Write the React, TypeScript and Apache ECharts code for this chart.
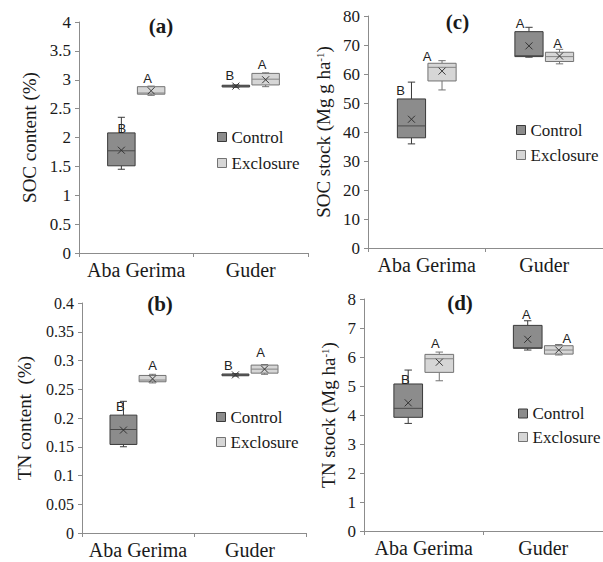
import React, { useEffect, useRef } from 'react';
import * as echarts from 'echarts';

const categories = ['Aba Gerima', 'Guder'];
const seriesNames = ['Control', 'Exclosure'];

// each entry: [min, Q1, median, Q3, max, mean]
const socContentControl = [[1.45, 1.51, 1.77, 2.08, 2.35, 1.78], [2.87, 2.875, 2.89, 2.905, 2.91, 2.89]];
const socContentExclosure = [[2.73, 2.75, 2.77, 2.88, 2.89, 2.81], [2.88, 2.91, 3.01, 3.11, 3.12, 3.0]];
const tnContentControl = [[0.15, 0.154, 0.18, 0.205, 0.229, 0.179], [0.273, 0.2735, 0.275, 0.2765, 0.277, 0.275]];
const tnContentExclosure = [[0.261, 0.263, 0.266, 0.274, 0.276, 0.268], [0.276, 0.278, 0.285, 0.292, 0.293, 0.285]];
const socStockControl = [[35.9, 38.0, 42.1, 51.4, 57.2, 44.4], [65.8, 66.0, 66.3, 74.6, 76.1, 69.7]];
const socStockExclosure = [[54.5, 57.6, 62.3, 63.7, 64.6, 61.0], [63.5, 64.3, 66.0, 67.5, 68.5, 66.2]];
const tnStockControl = [[3.71, 3.92, 4.23, 5.07, 5.55, 4.42], [6.24, 6.3, 6.32, 7.09, 7.25, 6.61]];
const tnStockExclosure = [[5.18, 5.47, 5.94, 6.09, 6.17, 5.82], [6.07, 6.1, 6.24, 6.39, 6.43, 6.24]];

// significance letters and the value at which each letter sits
const socContentControlLetters = ['B', 'B'];
const socContentExclosureLetters = ['A', 'A'];
const socContentControlLetterY = [2.16, 3.08];
const socContentExclosureLetterY = [3.02, 3.26];
const tnContentControlLetters = ['B', 'B'];
const tnContentExclosureLetters = ['A', 'A'];
const tnContentControlLetterY = [0.22, 0.292];
const tnContentExclosureLetterY = [0.292, 0.3136];
const socStockControlLetters = ['B', 'A'];
const socStockExclosureLetters = ['A', 'A'];
const socStockControlLetterY = [54.2, 77.5];
const socStockExclosureLetterY = [66, 70.6];
const tnStockControlLetters = ['B', 'A'];
const tnStockExclosureLetters = ['A', 'A'];
const tnStockControlLetterY = [5.24, 7.45];
const tnStockExclosureLetterY = [6.47, 6.65];

// axis ranges: [min, max, interval]
const socContentAxis = [0, 4, 0.5];
const tnContentAxis = [0, 0.4, 0.05];
const socStockAxis = [0, 80, 10];
const tnStockAxis = [0, 8, 1];

const SERIF = 'Liberation Serif';
const SANS = 'Liberation Sans';
const TEXT = '#1a1a1a';
const AXIS = '#8c8c8c';
const BOX_FRAC = 0.24;
const OFFSET = 0.13;
const styles = [
  { fill: '#8c8c8c', stroke: '#3a3a3a', median: '#4a4a4a', mean: '#333333', offset: -OFFSET },
  { fill: '#d6d6d6', stroke: '#737373', median: '#858585', mean: '#3a3a3a', offset: OFFSET },
];

const panels = [
  {
    title: '(a)', yName: 'SOC content (%)', axis: socContentAxis,
    data: [socContentControl, socContentExclosure],
    letters: [socContentControlLetters, socContentExclosureLetters],
    letterY: [socContentControlLetterY, socContentExclosureLetterY],
    layout: {
      grid: { left: 79, top: 22, width: 229, height: 231 }, nameGap: 40, tickSize: 17,
      legend: { left: 217, top: 128.5, gap: 9 }, title: [161, 26], dx: [[0.5, -6], [-3.5, -3.5]],
    },
  },
  {
    title: '(b)', yName: 'TN content  (%)', axis: tnContentAxis,
    data: [tnContentControl, tnContentExclosure],
    letters: [tnContentControlLetters, tnContentExclosureLetters],
    letterY: [tnContentControlLetterY, tnContentExclosureLetterY],
    layout: {
      grid: { left: 82, top: 303, width: 224, height: 230 }, nameGap: 48, tickSize: 16,
      legend: { left: 216, top: 408.5, gap: 8 }, title: [160, 304], dx: [[-3, -7], [0, -4]],
    },
  },
  {
    title: '(c)', yName: 'SOC stock (Mg g ha{sup|-1})', axis: socStockAxis,
    data: [socStockControl, socStockExclosure],
    letters: [socStockControlLetters, socStockExclosureLetters],
    letterY: [socStockControlLetterY, socStockExclosureLetterY],
    layout: {
      grid: { left: 368, top: 16, width: 237, height: 232 }, nameGap: 35, tickSize: 17,
      legend: { left: 516, top: 121.5, gap: 8 }, title: [457.5, 22], dx: [[-11, -9], [-15, -2]],
    },
  },
  {
    title: '(d)', yName: 'TN stock (Mg ha{sup|-1})', axis: tnStockAxis,
    data: [tnStockControl, tnStockExclosure],
    letters: [tnStockControlLetters, tnStockExclosureLetters],
    letterY: [tnStockControlLetterY, tnStockExclosureLetterY],
    layout: {
      grid: { left: 364, top: 299, width: 242, height: 232 }, nameGap: 26, tickSize: 17,
      legend: { left: 518, top: 405, gap: 6.5 }, title: [460, 302.5], dx: [[-3, -1.5], [-4, 8]],
    },
  },
];

function makeRender(st: any, letters: string[], letterY: number[], dx: number[]) {
  return (params: any, api: any) => {
    const i = params.dataIndex;
    const cat = api.value(0);
    const band = api.size([1, 0])[0];
    const cx = api.coord([cat, 0])[0] + st.offset * band;
    const w = BOX_FRAC * band;
    const py = (v: number) => api.coord([cat, v])[1];
    const lo = py(api.value(1));
    const q1 = py(api.value(2));
    const med = py(api.value(3));
    const q3 = py(api.value(4));
    const hi = py(api.value(5));
    const mean = py(api.value(6));
    const cap = w * 0.13;
    const m = 3.5;
    const ls = { stroke: st.stroke, lineWidth: 1 };
    return {
      type: 'group',
      children: [
        { type: 'line', shape: { x1: cx, y1: hi, x2: cx, y2: q3 }, style: ls },
        { type: 'line', shape: { x1: cx, y1: q1, x2: cx, y2: lo }, style: ls },
        { type: 'line', shape: { x1: cx - cap, y1: hi, x2: cx + cap, y2: hi }, style: ls },
        { type: 'line', shape: { x1: cx - cap, y1: lo, x2: cx + cap, y2: lo }, style: ls },
        {
          type: 'rect',
          shape: { x: cx - w / 2, y: q3, width: w, height: Math.max(q1 - q3, 1) },
          style: { fill: st.fill, stroke: st.stroke, lineWidth: 1 },
        },
        { type: 'line', shape: { x1: cx - w / 2, y1: med, x2: cx + w / 2, y2: med }, style: { stroke: st.median, lineWidth: 1 } },
        { type: 'line', shape: { x1: cx - m, y1: mean - m, x2: cx + m, y2: mean + m }, style: { stroke: st.mean, lineWidth: 1 } },
        { type: 'line', shape: { x1: cx - m, y1: mean + m, x2: cx + m, y2: mean - m }, style: { stroke: st.mean, lineWidth: 1 } },
        {
          type: 'text',
          x: cx + dx[i],
          y: py(letterY[i]),
          style: {
            text: letters[i], fill: '#222', fontSize: 13, fontFamily: SANS,
            textAlign: 'center', textVerticalAlign: 'middle',
          },
        },
      ],
    };
  };
}

function buildOption() {
  const grid: any[] = [];
  const xAxis: any[] = [];
  const yAxis: any[] = [];
  const series: any[] = [];
  const legend: any[] = [];
  const graphic: any[] = [];

  panels.forEach((p, k) => {
    const L = p.layout;
    grid.push({ ...L.grid, containLabel: false });
    xAxis.push({
      type: 'category', gridIndex: k, data: categories,
      axisLine: { show: true, lineStyle: { color: AXIS, width: 1 } },
      axisTick: { show: true, length: 4, lineStyle: { color: AXIS } },
      axisLabel: { color: TEXT, fontFamily: SERIF, fontSize: 20, margin: 7, interval: 0, hideOverlap: false },
      splitLine: { show: false },
    });
    yAxis.push({
      type: 'value', gridIndex: k, min: p.axis[0], max: p.axis[1], interval: p.axis[2],
      name: p.yName, nameLocation: 'middle', nameGap: L.nameGap,
      nameTextStyle: {
        color: TEXT, fontFamily: SERIF, fontSize: 19, lineHeight: 19,
        rich: { sup: { fontSize: 11, lineHeight: 10, verticalAlign: 'top', fontFamily: SERIF, color: TEXT } },
      },
      axisLine: { show: true, lineStyle: { color: AXIS, width: 1 } },
      axisTick: { show: true, length: 4, lineStyle: { color: AXIS } },
      axisLabel: { color: TEXT, fontFamily: SERIF, fontSize: L.tickSize, margin: 8 },
      splitLine: { show: false },
    });
    seriesNames.forEach((name, s) => {
      const st = styles[s];
      series.push({
        type: 'custom', name, xAxisIndex: k, yAxisIndex: k,
        data: categories.map((_, i) => [i, ...p.data[s][i]]),
        encode: { x: 0, y: [1, 2, 3, 4, 5, 6] },
        itemStyle: { color: st.fill, borderColor: st.stroke, borderWidth: 1 },
        renderItem: makeRender(st, p.letters[s], p.letterY[s], L.dx[s]),
      });
    });
    legend.push({
      orient: 'vertical', left: L.legend.left, top: L.legend.top, itemGap: L.legend.gap,
      padding: 0, icon: 'rect', itemWidth: 9, itemHeight: 9, selectedMode: false,
      textStyle: { color: TEXT, fontFamily: SERIF, fontSize: 17, lineHeight: 17 },
      data: seriesNames.map((name, s) => ({
        name,
        itemStyle: { color: styles[s].fill, borderColor: styles[s].stroke, borderWidth: 1 },
        textStyle: { color: TEXT, fontFamily: SERIF, fontSize: 17 },
      })),
    });
    graphic.push({
      type: 'text', x: L.title[0], y: L.title[1],
      style: {
        text: p.title, fill: TEXT, fontSize: 21, fontWeight: 'bold', fontFamily: SERIF,
        textAlign: 'center', textVerticalAlign: 'middle',
      },
    });
  });

  return {
    animation: false,
    backgroundColor: '#ffffff',
    textStyle: { fontFamily: SERIF },
    grid, xAxis, yAxis, series, legend, graphic,
  };
}

export default function App() {
  const ref = useRef<HTMLDivElement>(null);
  useEffect(() => {
    if (!ref.current) return;
    const chart = echarts.init(ref.current, undefined, { renderer: 'svg' });
    chart.setOption(buildOption() as any);
    return () => chart.dispose();
  }, []);
  return (
    <div
      ref={ref}
      style={{ position: 'fixed', left: 0, top: 0, width: 603, height: 562, background: '#fff' }}
    />
  );
}
